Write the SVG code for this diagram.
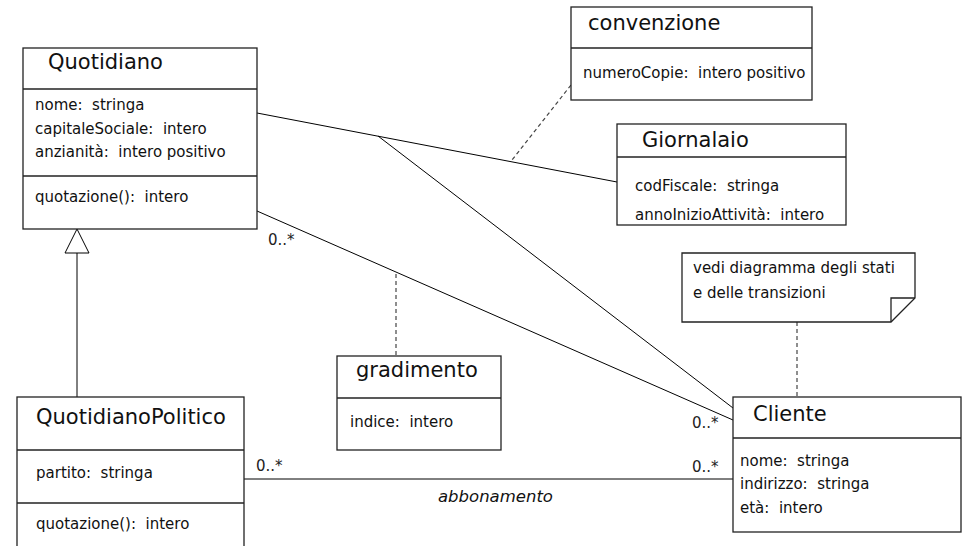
<svg xmlns="http://www.w3.org/2000/svg" width="964" height="546" viewBox="0 0 964 546">
<style>
.box{fill:#fff;stroke:#222;stroke-width:1.3}
.div{stroke:#222;stroke-width:1.3}
.ln{stroke:#000;stroke-width:1;fill:none}
.dash{stroke:#444;stroke-width:1.2;stroke-dasharray:4 3;fill:none}
.t{font-family:"DejaVu Sans",sans-serif;font-size:21px;fill:#111}
.a{font-family:"DejaVu Sans",sans-serif;font-size:15px;fill:#111;white-space:pre}
.m{font-family:"DejaVu Sans",sans-serif;font-size:15px;fill:#222}
.i{font-family:"DejaVu Sans",sans-serif;font-size:16.5px;font-style:italic;fill:#111}
</style>
<rect width="964" height="546" fill="#fff"/>
<g id="connectors">
<line class="ln" x1="257" y1="113" x2="617" y2="182"/>
<line class="ln" x1="378" y1="136" x2="733" y2="408"/>
<line class="ln" x1="257" y1="211" x2="733" y2="420"/>
<line class="ln" x1="244" y1="479" x2="733" y2="479"/>
<line class="ln" x1="77" y1="253" x2="77" y2="397"/>
<polygon points="77,229 65,253 89,253" fill="#fff" stroke="#000" stroke-width="1"/>
<line class="dash" x1="571" y1="85" x2="512" y2="160"/>
<line class="dash" x1="396" y1="274" x2="396" y2="356"/>
<line class="dash" x1="797" y1="322" x2="797" y2="397"/>
<text class="m" x="268" y="245">0..*</text>
<text class="m" x="692" y="428">0..*</text>
<text class="m" x="256" y="471">0..*</text>
<text class="m" x="692" y="472">0..*</text>
<text class="i" x="438" y="502">abbonamento</text>
</g>
<g id="Quotidiano">
<rect class="box" x="23" y="48" width="234" height="181"/>
<line class="div" x1="23" y1="89" x2="257" y2="89"/>
<line class="div" x1="23" y1="176" x2="257" y2="176"/>
<text class="t" x="48" y="69">Quotidiano</text>
<text class="a" x="35" y="110" xml:space="preserve">nome:  stringa</text>
<text class="a" x="35" y="134" xml:space="preserve">capitaleSociale:  intero</text>
<text class="a" x="35" y="157" xml:space="preserve">anzianità:  intero positivo</text>
<text class="a" x="35" y="202" xml:space="preserve">quotazione():  intero</text>
</g>
<g id="convenzione">
<rect class="box" x="571" y="7" width="241" height="93"/>
<line class="div" x1="571" y1="48" x2="812" y2="48"/>
<text class="t" x="588" y="30">convenzione</text>
<text class="a" x="583" y="78" xml:space="preserve">numeroCopie:  intero positivo</text>
</g>
<g id="Giornalaio">
<rect class="box" x="617" y="124" width="229" height="101"/>
<line class="div" x1="617" y1="157" x2="846" y2="157"/>
<text class="t" x="642" y="147">Giornalaio</text>
<text class="a" x="635" y="191" xml:space="preserve">codFiscale:  stringa</text>
<text class="a" x="635" y="220" xml:space="preserve">annoInizioAttività:  intero</text>
</g>
<g id="nota">
<path d="M682,253 H915 V298 L891,322 H682 Z" fill="#fff" stroke="#222" stroke-width="1.3"/>
<path d="M915,298 H891 V322" fill="none" stroke="#222" stroke-width="1.3"/>
<text class="a" x="693" y="273">vedi diagramma degli stati</text>
<text class="a" x="693" y="298">e delle transizioni</text>
</g>
<g id="gradimento">
<rect class="box" x="337" y="356" width="164" height="94"/>
<line class="div" x1="337" y1="398" x2="501" y2="398"/>
<text class="t" x="356" y="377">gradimento</text>
<text class="a" x="350" y="427" xml:space="preserve">indice:  intero</text>
</g>
<g id="QuotidianoPolitico">
<rect class="box" x="17" y="397" width="227" height="160"/>
<line class="div" x1="17" y1="450" x2="244" y2="450"/>
<line class="div" x1="17" y1="503" x2="244" y2="503"/>
<text class="t" x="36" y="424">QuotidianoPolitico</text>
<text class="a" x="36" y="478" xml:space="preserve">partito:  stringa</text>
<text class="a" x="36" y="529" xml:space="preserve">quotazione():  intero</text>
</g>
<g id="Cliente">
<rect class="box" x="733" y="397" width="228" height="135"/>
<line class="div" x1="733" y1="438" x2="961" y2="438"/>
<text class="t" x="753" y="421">Cliente</text>
<text class="a" x="740" y="466" xml:space="preserve">nome:  stringa</text>
<text class="a" x="740" y="489" xml:space="preserve">indirizzo:  stringa</text>
<text class="a" x="740" y="513" xml:space="preserve">età:  intero</text>
</g>
</svg>
